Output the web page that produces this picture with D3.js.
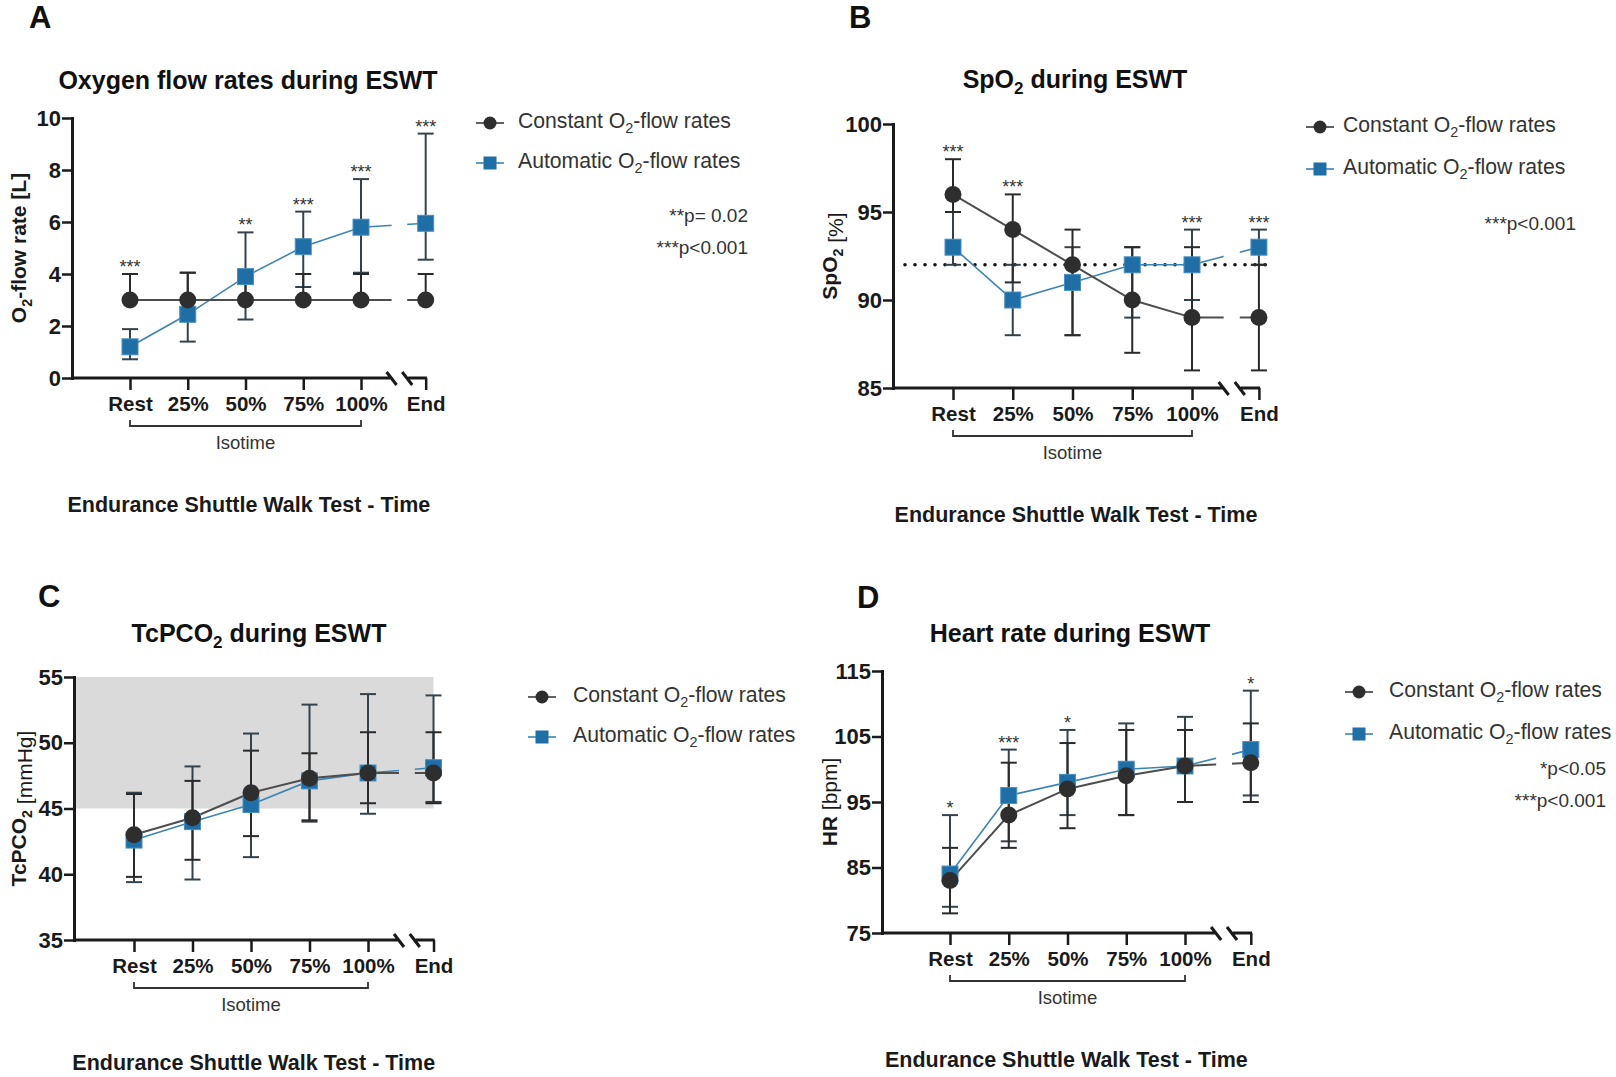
<!DOCTYPE html>
<html>
<head>
<meta charset="utf-8">
<script src="https://cdn.jsdelivr.net/npm/d3@7"></script>
<style>
  body { margin: 0; background: #fff; }
  svg { display: block; font-family: "Liberation Sans", Arial, sans-serif; }
</style>
</head>
<body>
<svg id="chart" width="1616" height="1077"></svg>
<script>
// categories
const timepoints = ['Rest', '25%', '50%', '75%', '100%', 'End'];
const seriesNames = ['Constant O_2-flow rates', 'Automatic O_2-flow rates'];

// A - oxygen flow rate [L]
const flowTicks = [0, 2, 4, 6, 8, 10];
const flowConstMean = [3, 3, 3, 3, 3, 3];
const flowConstLow = [3, 3, 3, 3, 3, 3];
const flowConstHigh = [4, 4.05, 4, 4, 4, 4];
const flowAutoMean = [1.2, 2.45, 3.9, 5.05, 5.8, 5.95];
const flowAutoLow = [0.72, 1.4, 2.25, 3.5, 4.05, 4.55];
const flowAutoHigh = [1.88, 4.05, 5.6, 6.4, 7.65, 9.4];
const flowStars = ['***', '', '**', '***', '***', '***'];
const flowP = ['**p= 0.02', '***p<0.001'];

// B - SpO2 [%]
const spo2Ticks = [85, 90, 95, 100];
const spo2Target = 92;
const spo2ConstMean = [96, 94, 92, 90, 89, 89];
const spo2ConstLow = [95, 91, 88, 87, 86, 86];
const spo2ConstHigh = [98, 96, 94, 93, 93, 92];
const spo2AutoMean = [93, 90, 91, 92, 92, 93];
const spo2AutoLow = [92, 88, 88, 89, 90, 92];
const spo2AutoHigh = [95, 92, 93, 93, 94, 94];
const spo2Stars = ['***', '***', '', '', '***', '***'];
const spo2P = ['***p<0.001'];

// C - TcPCO2 [mmHg]
const co2Ticks = [35, 40, 45, 50, 55];
const co2Normal = [45, 55];
const co2ConstMean = [43.0, 44.3, 46.2, 47.3, 47.7, 47.7];
const co2ConstLow = [39.8, 41.1, 42.9, 44.1, 45.4, 45.4];
const co2ConstHigh = [46.1, 47.1, 49.4, 49.2, 50.8, 50.8];
const co2AutoMean = [42.6, 44.0, 45.3, 47.1, 47.7, 48.1];
const co2AutoLow = [39.4, 39.6, 41.3, 44.0, 44.6, 45.5];
const co2AutoHigh = [46.2, 48.2, 50.7, 52.9, 53.7, 53.6];

// D - heart rate [bpm]
const hrTicks = [75, 85, 95, 105, 115];
const hrConstMean = [83, 93, 97, 99, 100.5, 101];
const hrConstLow = [78, 88, 91, 93, 95, 95];
const hrConstHigh = [88, 101, 104, 106, 106, 107];
const hrAutoMean = [84, 96, 98, 100, 100.5, 103];
const hrAutoLow = [79, 89, 93, 93, 95, 96];
const hrAutoHigh = [93, 103, 106, 107, 108, 112];
const hrStars = ['*', '***', '*', '', '', '*'];
const hrP = ['*p<0.05', '***p<0.001'];

const darkCol = '#2e2e2e';
const blueCol = '#1f6fa6';

const panels = [
  {
    letter: 'A', title: 'Oxygen flow rates during ESWT', yLabel: ['O_2-flow rate [L]', ''],
    domain: [0, 10], ticks: flowTicks, stars: flowStars, pvals: flowP,
    constant: { mean: flowConstMean, low: flowConstLow, high: flowConstHigh },
    auto: { mean: flowAutoMean, low: flowAutoLow, high: flowAutoHigh },
    L: { axisX: 72, xRest: 130, x100: 361, yTop: 118, yBot: 378, titleX: 248, titleY: 89,
         letterX: 29, letterY: 28, ylabX: 19, legX: 490, legY: [123, 163], legTextX: 518,
         pX: 748, pY: [222, 254] }
  },
  {
    letter: 'B', title: 'SpO_2 during ESWT', yLabel: ['SpO_2', ' [%]'],
    domain: [85, 100], ticks: spo2Ticks, stars: spo2Stars, pvals: spo2P, target: spo2Target,
    constant: { mean: spo2ConstMean, low: spo2ConstLow, high: spo2ConstHigh },
    auto: { mean: spo2AutoMean, low: spo2AutoLow, high: spo2AutoHigh },
    L: { axisX: 893, xRest: 953, x100: 1192, yTop: 124, yBot: 388, titleX: 1075, titleY: 88,
         letterX: 849, letterY: 28, ylabX: 830, legX: 1320, legY: [127, 169], legTextX: 1343,
         pX: 1576, pY: [230] }
  },
  {
    letter: 'C', title: 'TcPCO_2 during ESWT', yLabel: ['TcPCO_2', ' [mmHg]'],
    domain: [35, 55], ticks: co2Ticks, stars: [], pvals: [], band: co2Normal,
    constant: { mean: co2ConstMean, low: co2ConstLow, high: co2ConstHigh },
    auto: { mean: co2AutoMean, low: co2AutoLow, high: co2AutoHigh },
    L: { axisX: 74, xRest: 134, x100: 368, yTop: 677, yBot: 940, titleX: 259, titleY: 642,
         letterX: 38, letterY: 607, ylabX: 19, legX: 542, legY: [697, 737], legTextX: 573,
         pX: 0, pY: [] }
  },
  {
    letter: 'D', title: 'Heart rate during ESWT', yLabel: ['HR', ' [bpm]'],
    domain: [75, 115], ticks: hrTicks, stars: hrStars, pvals: hrP,
    constant: { mean: hrConstMean, low: hrConstLow, high: hrConstHigh },
    auto: { mean: hrAutoMean, low: hrAutoLow, high: hrAutoHigh },
    L: { axisX: 882, xRest: 950, x100: 1185, yTop: 671, yBot: 933, titleX: 1070, titleY: 642,
         letterX: 857, letterY: 608, ylabX: 830, legX: 1359, legY: [692, 734], legTextX: 1389,
         pX: 1606, pY: [775, 807] }
  }
];

const svg = d3.select('#chart');

// text with "_2" style subscripts
function rich(sel, str, size) {
  const parts = str.split('_');
  sel.append('tspan').text(parts[0]);
  parts.slice(1).forEach(p => {
    sel.append('tspan').attr('font-size', size * 0.68).attr('dy', size * 0.25).text(p[0]);
    sel.append('tspan').attr('dy', -size * 0.25).text(p.slice(1));
  });
}

function drawPanel(p, idx) {
  const L = p.L;
  const g = svg.append('g').attr('class', 'panel');

  const y = d3.scaleLinear().domain(p.domain).range([L.yBot, L.yTop]);
  const xi = d3.scaleLinear().domain([0, 4]).range([L.xRest, L.x100]);
  const step = xi(1) - xi(0);
  const xPositions = timepoints.map((t, i) => i < 5 ? xi(i) : xi(4) + step * 1.12);
  const x = d3.scaleOrdinal().domain(timepoints).range(xPositions);
  const xEnd = x('End');
  const bx1 = L.x100 + step * 0.53;
  const bx2 = L.x100 + step * 0.8;

  // letter + title
  g.append('text').attr('x', L.letterX).attr('y', L.letterY)
    .attr('font-size', 31).attr('font-weight', 'bold').attr('fill', '#111').text(p.letter);
  const title = g.append('text').attr('x', L.titleX).attr('y', L.titleY)
    .attr('text-anchor', 'middle').attr('font-size', 25).attr('font-weight', 'bold').attr('fill', '#111');
  rich(title, p.title, 25);

  // normal range band
  if (p.band) {
    g.append('rect')
      .attr('x', L.axisX).attr('width', xEnd - L.axisX)
      .attr('y', y(p.band[1])).attr('height', y(p.band[0]) - y(p.band[1]))
      .attr('fill', '#dadada');
  }
  // target line
  if (p.target) {
    g.append('line')
      .attr('x1', L.axisX + 12).attr('x2', xEnd + 12)
      .attr('y1', y(p.target)).attr('y2', y(p.target))
      .attr('stroke', '#111').attr('stroke-width', 3.6)
      .attr('stroke-linecap', 'round').attr('stroke-dasharray', '0 10');
  }

  // clip for broken x axis
  const clipId = 'gap' + idx;
  const clip = g.append('clipPath').attr('id', clipId);
  clip.append('rect').attr('x', L.axisX - 50).attr('y', L.yTop - 80).attr('width', bx1 - L.axisX + 50).attr('height', L.yBot - L.yTop + 120);
  clip.append('rect').attr('x', bx2).attr('y', L.yTop - 80).attr('width', 120).attr('height', L.yBot - L.yTop + 120);

  const line = d3.line().x((d, i) => xPositions[i]).y(d => y(d));
  const series = [
    { s: p.auto, lineCol: '#3d84b5', lineW: 1.6, barCol: '#34424d' },
    { s: p.constant, lineCol: '#4d4d4d', lineW: 2, barCol: '#2a2a2a' }
  ];

  series.forEach(o => {
    g.append('path').attr('d', line(o.s.mean)).attr('fill', 'none')
      .attr('stroke', o.lineCol).attr('stroke-width', o.lineW)
      .attr('clip-path', `url(#${clipId})`);
  });

  // error bars
  series.forEach(o => {
    const eb = g.append('g').attr('stroke', o.barCol).attr('stroke-width', 2).attr('fill', 'none');
    timepoints.forEach((t, i) => {
      const cx = x(t);
      eb.append('line').attr('x1', cx).attr('x2', cx).attr('y1', y(o.s.low[i])).attr('y2', y(o.s.high[i]));
      [o.s.low[i], o.s.high[i]].forEach(v => {
        if (v === o.s.mean[i]) return;
        eb.append('line').attr('x1', cx - 8).attr('x2', cx + 8).attr('y1', y(v)).attr('y2', y(v));
      });
    });
  });

  // markers
  g.append('g').selectAll('rect').data(p.auto.mean).join('rect')
    .attr('x', (d, i) => xPositions[i] - 8).attr('y', d => y(d) - 8)
    .attr('width', 16).attr('height', 16).attr('fill', blueCol)
    .attr('stroke', '#4a8fbf').attr('stroke-width', 1);
  g.append('g').selectAll('circle').data(p.constant.mean).join('circle')
    .attr('cx', (d, i) => xPositions[i]).attr('cy', d => y(d)).attr('r', 8.5).attr('fill', darkCol);

  // significance marks
  g.append('g').selectAll('text').data(p.stars).join('text')
    .attr('x', (d, i) => xPositions[i])
    .attr('y', (d, i) => y(Math.max(p.constant.high[i], p.auto.high[i])) - 1)
    .attr('text-anchor', 'middle').attr('font-size', 18).attr('fill', '#333').text(d => d);

  // y axis
  const yAxis = g.append('g').attr('transform', `translate(${L.axisX},0)`)
    .call(d3.axisLeft(y).tickValues(p.ticks).tickSize(10).tickSizeOuter(0).tickPadding(1));
  yAxis.select('.domain').attr('stroke', '#1a1a1a').attr('stroke-width', 3).attr('stroke-linecap', 'square');
  yAxis.selectAll('.tick line').attr('stroke', '#1a1a1a').attr('stroke-width', 2.5);
  yAxis.selectAll('.tick text').attr('font-size', 22).attr('font-weight', 'bold')
    .attr('fill', '#1a1a1a').attr('font-family', '"Liberation Sans", Arial, sans-serif');

  // x axis (ticks + labels), domain drawn with a break
  const xAxis = g.append('g').attr('transform', `translate(0,${L.yBot})`)
    .call(d3.axisBottom(x).tickValues(timepoints).tickSize(12).tickPadding(6));
  xAxis.select('.domain').remove();
  xAxis.selectAll('.tick line').attr('stroke', '#1a1a1a').attr('stroke-width', 2.5);
  xAxis.selectAll('.tick text').attr('font-size', 20.5).attr('font-weight', 'bold')
    .attr('fill', '#1a1a1a').attr('font-family', '"Liberation Sans", Arial, sans-serif');
  const yb = L.yBot;
  g.append('path')
    .attr('d', `M${L.axisX},${yb}H${bx1}` +
               `M${bx1 - 5},${yb - 6}L${bx1 + 5},${yb + 7}` +
               `M${bx2 - 5},${yb - 6}L${bx2 + 5},${yb + 7}` +
               `M${bx2 + 1},${yb}H${xEnd + 1.2}`)
    .attr('fill', 'none').attr('stroke', '#1a1a1a').attr('stroke-width', 3);

  // isotime bracket
  g.append('path')
    .attr('d', `M${L.xRest},${yb + 42}V${yb + 48}H${L.x100}V${yb + 42}`)
    .attr('fill', 'none').attr('stroke', '#333').attr('stroke-width', 1.8);
  g.append('text').attr('x', (L.xRest + L.x100) / 2).attr('y', yb + 71)
    .attr('text-anchor', 'middle').attr('font-size', 18.5).attr('fill', '#333').text('Isotime');
  g.append('text').attr('x', (L.axisX + xEnd) / 2).attr('y', Math.min(yb + 134, 1070))
    .attr('text-anchor', 'middle').attr('font-size', 21.5).attr('font-weight', 'bold')
    .attr('fill', '#1a1a1a').text('Endurance Shuttle Walk Test - Time');

  // y label
  const yl = g.append('text')
    .attr('transform', `translate(${L.ylabX},${(L.yTop + L.yBot) / 2}) rotate(-90)`)
    .attr('text-anchor', 'middle').attr('dy', '0.35em').attr('font-size', 21).attr('fill', '#1a1a1a');
  const ylb = yl.append('tspan').attr('font-weight', 'bold');
  rich(ylb, p.yLabel[0], 21);
  if (p.yLabel[1]) yl.append('tspan').attr('font-weight', 'normal').text(p.yLabel[1]);

  // legend
  const legMeta = [
    { col: '#3a3a3a', shape: 'circle' },
    { col: '#3d84b5', shape: 'square' }
  ];
  seriesNames.forEach((name, i) => {
    const my = L.legY[i];
    const lg = g.append('g');
    lg.append('line').attr('x1', L.legX - 14).attr('x2', L.legX + 14).attr('y1', my).attr('y2', my)
      .attr('stroke', legMeta[i].col).attr('stroke-width', 1.6);
    if (legMeta[i].shape === 'circle') {
      lg.append('circle').attr('cx', L.legX).attr('cy', my).attr('r', 6.5).attr('fill', darkCol);
    } else {
      lg.append('rect').attr('x', L.legX - 6.5).attr('y', my - 6.5).attr('width', 13).attr('height', 13).attr('fill', blueCol);
    }
    const t = lg.append('text').attr('x', L.legTextX).attr('y', my + 5)
      .attr('font-size', 21.2).attr('fill', '#333');
    rich(t, name, 21.2);
  });

  // p values
  p.pvals.forEach((s, i) => {
    g.append('text').attr('x', L.pX).attr('y', L.pY[i]).attr('text-anchor', 'end')
      .attr('font-size', 19).attr('fill', '#333').text(s);
  });
}

panels.forEach(drawPanel);
</script>
</body>
</html>
